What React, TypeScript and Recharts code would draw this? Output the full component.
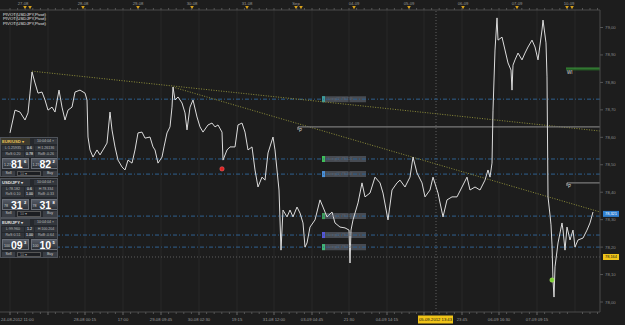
import React from 'react';
import { ComposedChart, Line, XAxis, YAxis, ReferenceLine, ReferenceArea, ReferenceDot } from 'recharts';

// USDJPY tick path (time position, price)
const tickTime = [
  10, 15, 20, 25, 28, 30, 32, 35, 38, 42, 45, 48, 52, 55, 59, 62, 65, 68, 72, 75,
  80, 85, 87, 88, 90, 93, 97, 100, 103, 107, 110, 112, 115, 118, 122, 125, 128, 132, 135, 138,
  142, 145, 150, 153, 155, 158, 162, 164, 167, 170, 172, 173, 175, 178, 182, 185, 187, 190, 193, 197,
  200, 203, 208, 212, 215, 218, 222, 223, 227, 230, 235, 238, 242, 245, 248, 252, 255, 258, 262, 265,
  268, 273, 275, 277, 279, 281, 283, 287, 290, 293, 297, 300, 303, 305, 307, 310, 315, 320, 323, 327,
  332, 335, 340, 345, 349, 350, 351, 353, 358, 362, 365, 370, 375, 380, 383, 388, 392, 397, 400, 405,
  410, 413, 417, 422, 425, 430, 433, 438, 443, 447, 452, 457, 462, 467, 470, 475, 480, 485, 488, 490,
  492, 493, 495, 497, 498, 502, 505, 508, 511, 512, 513, 515, 518, 522, 525, 528, 532, 535, 538, 542,
  543, 546, 547, 548, 550, 551, 552, 553, 554, 555, 558, 562, 563, 565, 567, 570, 573, 575, 578, 583,
  587, 590, 593,
];
const tickPrice = [
  78.616, 78.699, 78.692, 78.663, 78.689, 78.761, 78.838, 78.798, 78.761, 78.765, 78.736, 78.699, 78.71, 78.692, 78.772, 78.71, 78.663, 78.699, 78.71, 78.765,
  78.772, 78.761, 78.736, 78.601, 78.554, 78.528, 78.554, 78.536, 78.554, 78.579, 78.692, 78.627, 78.565, 78.517, 78.492, 78.481, 78.517, 78.506, 78.554, 78.616,
  78.619, 78.597, 78.601, 78.565, 78.554, 78.506, 78.528, 78.565, 78.616, 78.638, 78.71, 78.783, 78.736, 78.747, 78.725, 78.689, 78.627, 78.71, 78.736, 78.674,
  78.638, 78.619, 78.645, 78.652, 78.638, 78.645, 78.619, 78.517, 78.554, 78.565, 78.565, 78.645, 78.652, 78.619, 78.554, 78.565, 78.481, 78.419, 78.455, 78.444,
  78.543, 78.601, 78.554, 78.481, 78.408, 78.189, 78.335, 78.31, 78.335, 78.31, 78.346, 78.324, 78.288, 78.2, 78.215, 78.273, 78.299, 78.372, 78.346, 78.31,
  78.328, 78.288, 78.273, 78.27, 78.262, 78.142, 78.262, 78.299, 78.361, 78.434, 78.383, 78.397, 78.455, 78.434, 78.397, 78.299, 78.408, 78.434, 78.444, 78.419,
  78.455, 78.528, 78.47, 78.434, 78.383, 78.408, 78.455, 78.397, 78.31, 78.372, 78.383, 78.383, 78.419, 78.455, 78.408, 78.419, 78.408, 78.444, 78.481, 78.455,
  78.506, 78.699, 78.918, 79.035, 78.954, 78.965, 78.918, 78.871, 78.845, 78.772, 78.863, 78.882, 78.907, 78.882, 78.907, 78.929, 78.954, 78.929, 78.882, 78.991,
  79.027, 78.944, 78.82, 78.383, 78.317, 78.281, 78.208, 78.08, 78.018, 78.128, 78.215, 78.288, 78.262, 78.189, 78.273, 78.226, 78.262, 78.2, 78.226, 78.233,
  78.262, 78.288, 78.328,
];

const priceTicks = [78.0, 78.1, 78.2, 78.3, 78.4, 78.5, 78.6, 78.7, 78.8, 78.9, 79.0];

const timeGrid = [10, 48, 85, 123, 161, 199, 237, 274, 312, 349, 387, 424, 462, 499, 537, 575];
const timeLabels = [
  '24-08-2012 11:00', '', '28-08 00:15', '17:00', '29-08 09:45', '30-08 02:30', '19:15', '31-08 12:00',
  '03-09 04:45', '21:30', '04-09 14:15', '', '23:45', '06-09 16:30', '07-09 09:15', '10-09 02:00',
];

const dayTicks = [23, 83, 138, 192, 247, 296, 354, 409, 463, 517, 569];
const dayLabels = ['27-08', '28-08', '29-08', '30-08', '31-08', 'Sep', '04-09', '05-09', '06-09', '07-09', '10-09'];
const eventTimes = [25, 30, 83, 138, 192, 247, 296, 301, 354, 409, 463, 517, 567, 572];

const orderLevels = [78.739, 78.521, 78.466, 78.313, 78.244, 78.2];
const orderColors = ['#3d9c9c', '#3fbf5a', '#4a8fd6', '#3f9f5a', '#5656d6', '#40b878'];
const orderTexts = ['Long(1) 78,739', 'Long(1) 78,521', 'Long(1) 78,466', 'Long(1) 78,313', 'Long(1) 78,244', 'Long(1) 78,200'];

const trendLines = [
  [{ x: 32, y: 78.841 }, { x: 600, y: 78.623 }],
  [{ x: 173, y: 78.783 }, { x: 600, y: 78.328 }],
];

const pivotStart = [298, 567];
const pivotLevels = [78.638, 78.434];
const weeklyStart = 566;
const weeklyLevel = 78.852;

const lastPrice = 78.321;
const crossTime = 436;
const crossPrice = 78.164;
const crossTimeLabel = '05-09-2012 13:43';
const redMark = { x: 222, y: 78.485 };
const greenMark = { x: 552, y: 78.08 };

const panels = [
  { pair: 'EUR/USD', low: 'L:1.25935', spr: '0.6', high: 'H:1.26136', r1: 'RoS:0.20', r2: '0.78', r3: 'RoB:-0.26', big: '1.27', sell: '81', sp: '6', buy: '82', bp: '2', lot: '10' },
  { pair: 'USD/JPY', low: 'L:78.182', spr: '0.6', high: 'H:78.334', r1: 'RoS:0.10', r2: '1.00', r3: 'RoB:-0.33', big: '78', sell: '31', sp: '2', buy: '31', bp: '8', lot: '10' },
  { pair: 'EUR/JPY', low: 'L:99.960', spr: '1.2', high: 'H:100.204', r1: 'RoS:0.51', r2: '1.00', r3: 'RoB:-0.64', big: '100', sell: '09', sp: '3', buy: '10', bp: '5', lot: '10' },
];

const data = tickTime.map((t, i) => ({ t, p: tickPrice[i] }));

const FONT = '"Liberation Sans", Arial, sans-serif';
const minorTicks: number[] = [];
for (let i = 0; i < timeGrid.length - 1; i++) {
  for (let k = 0; k < 5; k++) minorTicks.push(timeGrid[i] + ((timeGrid[i + 1] - timeGrid[i]) * k) / 5);
}
for (let k = 1; k < 4; k++) minorTicks.push(575 + 7.5 * k);

const BottomTick = (props: any) => {
  const { x, y, payload } = props;
  const i = timeGrid.indexOf(payload.value);
  if (i < 0) return <line x1={x} x2={x} y1={y} y2={y + 2} stroke="#555" />;
  const first = i === 0;
  return (
    <g>
      <line x1={x} x2={x} y1={y} y2={y + 3} stroke="#666" />
      <text x={first ? 1 : x} y={y + 9.2} textAnchor={first ? 'start' : 'middle'} fill="#999" fontSize={4.2} fontFamily={FONT}>
        {timeLabels[i]}
      </text>
    </g>
  );
};

const TopTick = (props: any) => {
  const { x, y, payload } = props;
  const i = dayTicks.indexOf(payload.value);
  if (i < 0) return <line x1={x} x2={x} y1={y - 2} y2={y} stroke="#555" />;
  return (
    <text x={x} y={y - 4.6} textAnchor="middle" fill="#999" fontSize={4.2} fontFamily={FONT}>
      {dayLabels[i]}
    </text>
  );
};

const small = { fontSize: 3.6, lineHeight: '5px', fontFamily: FONT } as const;

const Panel = ({ p, top, active }: any) => (
  <div style={{ position: 'absolute', left: 0, top, width: 58, height: 40, background: '#25282d', border: '1px solid #4f535a', boxSizing: 'border-box', overflow: 'hidden' }}>
    <div style={{ position: 'absolute', left: 0, top: 0, width: 28, height: 7, background: active ? '#3d3a2e' : '#33373d', color: active ? '#e8c35a' : '#e0e0e0', fontSize: 4.2, fontWeight: 'bold', lineHeight: '7px', fontFamily: FONT, paddingLeft: 1 }}>
      {p.pair} ▾
    </div>
    <div style={{ position: 'absolute', left: 33, top: 1, width: 23, height: 5, background: '#33373d', color: '#bdbdbd', ...small, textAlign: 'center' }}>10:04:04 ×</div>
    {[[p.low, p.spr, p.high], [p.r1, p.r2, p.r3]].map((row, r) => (
      <div key={r} style={{ position: 'absolute', left: 1, top: 8 + r * 5.5, width: 55, height: 5, display: 'flex', gap: 1 }}>
        {row.map((c: string, k: number) => (
          <div key={k} style={{ width: k === 1 ? 9 : 22, background: '#30343a', color: k === 1 ? '#ffffff' : '#b8b8b8', ...small, textAlign: 'center', whiteSpace: 'nowrap', overflow: 'hidden' }}>{c}</div>
        ))}
      </div>
    ))}
    {[[p.sell, p.sp], [p.buy, p.bp]].map((b, k) => (
      <div key={k} style={{ position: 'absolute', left: 1 + k * 28.5, top: 20, width: 27, height: 11, background: 'linear-gradient(#565c67, #2c3036)', border: '0.5px solid #6a6f78', boxSizing: 'border-box', color: '#fff', fontFamily: FONT }}>
        <span style={{ position: 'absolute', left: 1, top: 4, fontSize: 3.6, color: '#cfcfcf' }}>{p.big}</span>
        <span style={{ position: 'absolute', left: 8, top: -1, fontSize: 10.5, fontWeight: 'bold', lineHeight: '12px' }}>{b[0]}</span>
        <span style={{ position: 'absolute', left: 21, top: 0, fontSize: 4, fontWeight: 'bold' }}>{b[1]}</span>
      </div>
    ))}
    <div style={{ position: 'absolute', left: 1, top: 32.5, width: 13, height: 5.5, background: '#3a3e45', color: '#ccc', ...small, textAlign: 'center' }}>Sell</div>
    <div style={{ position: 'absolute', left: 16, top: 32.5, width: 24, height: 5.5, background: '#1c1e22', border: '0.5px solid #555', boxSizing: 'border-box', color: '#999', ...small, paddingLeft: 2 }}>{p.lot} ▾</div>
    <div style={{ position: 'absolute', left: 42, top: 32.5, width: 14, height: 5.5, background: '#3a3e45', color: '#ccc', ...small, textAlign: 'center' }}>Buy</div>
  </div>
);

const App = () => {
  const W = 625;
  const H = 325;
  return (
    <div style={{ position: 'absolute', left: 0, top: 0, width: W, height: H, background: '#1d1d1d', overflow: 'hidden' }}>
      <ComposedChart width={W} height={H} data={data} margin={{ top: 0, right: 0, bottom: 0, left: 0 }}>
        <XAxis
          xAxisId="top" orientation="top" type="number" dataKey="t" domain={[0, 600]} allowDataOverflow
          ticks={[...minorTicks, ...dayTicks].sort((a, b) => a - b)} interval={0} height={10}
          tickSize={0} tickMargin={0} tickLine={false} axisLine={{ stroke: '#4a4a4a' }} tick={<TopTick />}
        />
        <XAxis
          xAxisId="b" orientation="bottom" type="number" dataKey="t" domain={[0, 600]} allowDataOverflow
          ticks={minorTicks} interval={0} height={13}
          tickSize={0} tickMargin={0} tickLine={false} axisLine={{ stroke: '#4a4a4a' }} tick={<BottomTick />}
        />
        <YAxis
          yAxisId="p" orientation="right" type="number" domain={[77.9636, 79.0638]} allowDataOverflow
          ticks={priceTicks} interval={0} width={25} tickSize={3} tickMargin={2}
          axisLine={{ stroke: '#4a4a4a' }} tickLine={{ stroke: '#555' }}
          tick={{ fill: '#888', fontSize: 4.3, fontFamily: FONT }}
          tickFormatter={(v: number) => v.toFixed(2).replace('.', ',')}
        />

        {timeGrid.map((g) => (
          <ReferenceLine key={'g' + g} xAxisId="b" yAxisId="p" x={g} stroke="#292929" />
        ))}

        <ReferenceLine xAxisId="b" yAxisId="p" x={crossTime} stroke="#5f5f5f" strokeDasharray="1 2" />
        <ReferenceLine xAxisId="b" yAxisId="p" y={crossPrice} stroke="#5f5f5f" strokeDasharray="1 2" />

        {orderLevels.map((lv) => (
          <ReferenceLine key={'o' + lv} xAxisId="b" yAxisId="p" y={lv} stroke="#2f6190" strokeDasharray="4 2 1 2" />
        ))}

        {trendLines.map((seg, i) => (
          <ReferenceLine key={'tr' + i} xAxisId="b" yAxisId="p" segment={seg} stroke="#8f8f3a" strokeDasharray="1 1.5" ifOverflow="visible" />
        ))}

        {pivotLevels.map((lv, i) => (
          <ReferenceLine key={'pv' + i} xAxisId="b" yAxisId="p" segment={[{ x: pivotStart[i], y: lv }, { x: 600, y: lv }]} stroke="#7a7a7a" strokeWidth={1.3} />
        ))}
        {pivotLevels.map((lv, i) => (
          <ReferenceDot key={'pl' + i} xAxisId="b" yAxisId="p" x={pivotStart[i]} y={lv} ifOverflow="visible"
            shape={(s: any) => (
              <g>
                <line x1={s.cx} x2={s.cx} y1={s.cy} y2={s.cy + 3} stroke="#bbb" />
                <text x={s.cx + 1} y={s.cy + 5} fill="#ddd" fontSize={4.5} fontFamily={FONT}>P</text>
              </g>
            )}
          />
        ))}
        <ReferenceLine xAxisId="b" yAxisId="p" segment={[{ x: weeklyStart, y: weeklyLevel }, { x: 600, y: weeklyLevel }]} stroke="#3fae3f" strokeWidth={1} />
        <ReferenceLine xAxisId="b" yAxisId="p" segment={[{ x: weeklyStart, y: weeklyLevel - 0.006 }, { x: 600, y: weeklyLevel - 0.006 }]} stroke="#2a7a2a" strokeWidth={1} />
        <ReferenceDot xAxisId="b" yAxisId="p" x={weeklyStart} y={weeklyLevel} ifOverflow="visible"
          shape={(s: any) => <text x={s.cx + 1} y={s.cy + 6} fill="#ddd" fontSize={4.5} fontFamily={FONT}>WI</text>}
        />

        {orderLevels.map((lv, i) => (
          <ReferenceArea key={'ob' + i} xAxisId="b" yAxisId="p" x1={322} x2={366} y1={lv - 0.011} y2={lv + 0.011} fill="#474b52" fillOpacity={1}
            label={{ value: orderTexts[i], position: 'insideLeft', offset: 6, fill: '#62666e', fontSize: 3.6, fontFamily: FONT }}
          />
        ))}
        {orderLevels.map((lv, i) => (
          <ReferenceArea key={'om' + i} xAxisId="b" yAxisId="p" x1={322} x2={325} y1={lv - 0.011} y2={lv + 0.011} fill={orderColors[i]} fillOpacity={1} />
        ))}

        <Line xAxisId="b" yAxisId="p" type="linear" dataKey="p" stroke="#dcdcdc" strokeWidth={1} dot={false} isAnimationActive={false} />

        <ReferenceDot xAxisId="b" yAxisId="p" x={redMark.x} y={redMark.y} r={2.2} fill="#e02222" stroke="#ff7070" strokeWidth={0.5} />
        <ReferenceDot xAxisId="b" yAxisId="p" x={greenMark.x} y={greenMark.y} r={2.2} fill="#7acc33" stroke="#b6f070" strokeWidth={0.5} />

        {eventTimes.map((t, i) => (
          <ReferenceDot key={'ev' + i} xAxisId="b" yAxisId="p" x={t} y={79.0638} ifOverflow="visible"
            shape={(s: any) => <path d={`M${s.cx - 1.8},${s.cy - 4} L${s.cx + 1.8},${s.cy - 4} L${s.cx},${s.cy - 0.8} Z`} fill="#d9a21c" />}
          />
        ))}

        <ReferenceDot xAxisId="b" yAxisId="p" x={600} y={lastPrice} ifOverflow="visible"
          shape={(s: any) => (
            <g>
              <rect x={s.cx + 3} y={s.cy - 3} width={16} height={6} fill="#2f7fd0" />
              <text x={s.cx + 11} y={s.cy + 1.4} textAnchor="middle" fill="#fff" fontSize={3.9} fontFamily={FONT}>78,321</text>
            </g>
          )}
        />
        <ReferenceDot xAxisId="b" yAxisId="p" x={600} y={crossPrice} ifOverflow="visible"
          shape={(s: any) => (
            <g>
              <rect x={s.cx + 3} y={s.cy - 3} width={16} height={6} fill="#f0c419" />
              <text x={s.cx + 11} y={s.cy + 1.4} textAnchor="middle" fill="#111" fontSize={3.9} fontFamily={FONT}>78,164</text>
            </g>
          )}
        />
        <ReferenceDot xAxisId="b" yAxisId="p" x={crossTime} y={77.9636} ifOverflow="visible"
          shape={(s: any) => (
            <g>
              <rect x={s.cx - 18} y={s.cy + 3.5} width={35} height={8} fill="#f0c419" />
              <text x={s.cx - 0.5} y={s.cy + 9} textAnchor="middle" fill="#111" fontSize={4.2} fontFamily={FONT}>{crossTimeLabel}</text>
            </g>
          )}
        />
      </ComposedChart>

      {['PIVOT(USDJPY,Pivot)', 'PIVOT(USDJPY,Pivot)', 'PIVOT(USDJPY,Pivot)'].map((s, i) => (
        <div key={i} style={{ position: 'absolute', left: 3, top: 11.5 + i * 4.6, fontSize: 4.3, lineHeight: '5px', color: '#e6e6e6', fontFamily: FONT }}>{s}</div>
      ))}

      {panels.map((p, i) => (
        <Panel key={p.pair} p={p} top={137 + i * 40.5} active={i === 0} />
      ))}
    </div>
  );
};

export default App;
